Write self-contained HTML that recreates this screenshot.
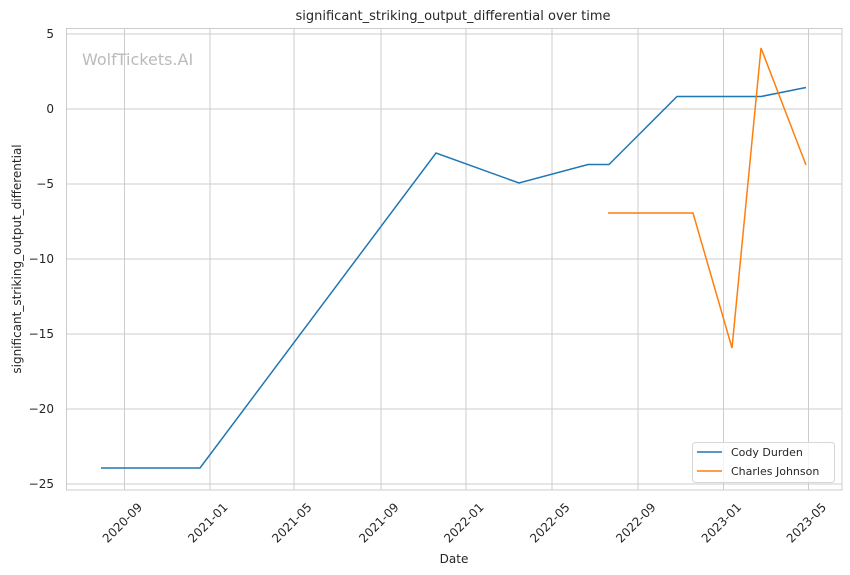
<!DOCTYPE html>
<html><head><style>body{margin:0;background:#fff}svg{display:block}text{font-family:"DejaVu Sans","Liberation Sans",sans-serif;fill:#262626}</style></head>
<body>
<svg width="850" height="575" viewBox="0 0 850 575" xmlns="http://www.w3.org/2000/svg">
<rect width="850" height="575" fill="#fff"/>
<g stroke="#cccccc" stroke-width="1">
<line x1="124.5" y1="28" x2="124.5" y2="490"/><line x1="210" y1="28" x2="210" y2="490"/><line x1="294" y1="28" x2="294" y2="490"/><line x1="381" y1="28" x2="381" y2="490"/><line x1="466" y1="28" x2="466" y2="490"/><line x1="552" y1="28" x2="552" y2="490"/><line x1="638" y1="28" x2="638" y2="490"/><line x1="723.5" y1="28" x2="723.5" y2="490"/><line x1="808.5" y1="28" x2="808.5" y2="490"/>
<line x1="66" y1="34" x2="842" y2="34"/><line x1="66" y1="109" x2="842" y2="109"/><line x1="66" y1="184" x2="842" y2="184"/><line x1="66" y1="259" x2="842" y2="259"/><line x1="66" y1="334" x2="842" y2="334"/><line x1="66" y1="409" x2="842" y2="409"/><line x1="66" y1="484" x2="842" y2="484"/>
<rect x="66.5" y="28.5" width="775.5" height="461.5" fill="none"/>
</g>
<text x="82" y="65" font-size="16" style="fill:#bbbbbb">WolfTickets.AI</text>
<polyline fill="none" stroke="#1f77b4" stroke-width="1.5" points="101,468 200,468 436,153 519,183 588,164.5 609,164.5 677,96.5 761,96.5 806,87.5"/>
<polyline fill="none" stroke="#ff7f0e" stroke-width="1.5" points="608,213 693,213 732,348 761,48 806,165"/>
<text x="453" y="20" font-size="13" text-anchor="middle">significant_striking_output_differential over time</text>
<g font-size="12" text-anchor="end">
<text x="54" y="38">5</text><text x="54" y="113">0</text><text x="54" y="188">−5</text><text x="54" y="263">−10</text><text x="54" y="338">−15</text><text x="54" y="413">−20</text><text x="54" y="488">−25</text>
</g>
<g font-size="12" text-anchor="end">
<text transform="translate(143,508) rotate(-45)">2020-09</text>
<text transform="translate(228.5,508) rotate(-45)">2021-01</text>
<text transform="translate(312.5,508) rotate(-45)">2021-05</text>
<text transform="translate(399.5,508) rotate(-45)">2021-09</text>
<text transform="translate(484.5,508) rotate(-45)">2022-01</text>
<text transform="translate(570.5,508) rotate(-45)">2022-05</text>
<text transform="translate(656.5,508) rotate(-45)">2022-09</text>
<text transform="translate(742,508) rotate(-45)">2023-01</text>
<text transform="translate(827,508) rotate(-45)">2023-05</text>
</g>
<text x="454" y="563" font-size="12" text-anchor="middle">Date</text>
<text transform="translate(21,259) rotate(-90)" font-size="12" text-anchor="middle">significant_striking_output_differential</text>
<rect x="692.5" y="442.5" width="142" height="40" rx="3" fill="#fff" fill-opacity="0.8" stroke="#d6d6d6"/>
<line x1="697" y1="452" x2="722" y2="452" stroke="#1f77b4" stroke-width="1.5"/>
<line x1="697" y1="471" x2="722" y2="471" stroke="#ff7f0e" stroke-width="1.5"/>
<text x="731" y="456" font-size="11">Cody Durden</text>
<text x="731" y="475" font-size="11">Charles Johnson</text>
</svg>
</body></html>
